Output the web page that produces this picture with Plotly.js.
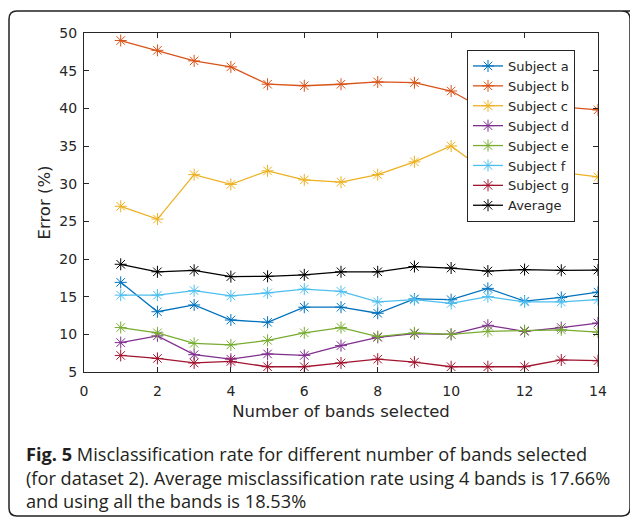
<!DOCTYPE html>
<html>
<head>
<meta charset="utf-8">
<script src="https://cdn.plot.ly/plotly-3.0.1.min.js"></script>
<style>
html,body{margin:0;padding:0;background:#fff;}
#chart{width:630px;height:519px;}
</style>
</head>
<body>
<div id="chart"></div>
<script>
// ---- data ----
const bands = [1, 2, 3, 4, 5, 6, 7, 8, 9, 10, 11, 12, 13, 14];
const seriesNames = ["Subject a", "Subject b", "Subject c", "Subject d", "Subject e", "Subject f", "Subject g", "Average"];
const subjectA = [16.9, 13.0, 13.9, 11.9, 11.6, 13.6, 13.6, 12.8, 14.7, 14.6, 16.1, 14.4, 14.9, 15.6];
const subjectB = [49.0, 47.7, 46.3, 45.5, 43.2, 43.0, 43.2, 43.5, 43.4, 42.3, 39.6, 40.8, 40.2, 39.8];
const subjectC = [27.0, 25.3, 31.2, 29.9, 31.7, 30.5, 30.2, 31.2, 32.9, 35.0, 31.4, 33.2, 31.5, 30.9];
const subjectD = [8.9, 9.8, 7.3, 6.7, 7.4, 7.2, 8.5, 9.6, 10.1, 10.0, 11.2, 10.4, 10.9, 11.5];
const subjectE = [10.9, 10.2, 8.8, 8.6, 9.2, 10.2, 10.9, 9.7, 10.2, 10.0, 10.4, 10.5, 10.6, 10.3];
const subjectF = [15.2, 15.2, 15.8, 15.1, 15.5, 16.0, 15.7, 14.3, 14.6, 14.1, 15.0, 14.3, 14.3, 14.6];
const subjectG = [7.2, 6.8, 6.2, 6.4, 5.7, 5.7, 6.2, 6.7, 6.3, 5.7, 5.7, 5.7, 6.6, 6.5];
const average  = [19.3, 18.3, 18.5, 17.66, 17.7, 17.9, 18.3, 18.3, 19.0, 18.8, 18.4, 18.6, 18.5, 18.53];
const xTicks = [0, 2, 4, 6, 8, 10, 12, 14];
const yTicks = [5, 10, 15, 20, 25, 30, 35, 40, 45, 50];

const colors = ["#0072BD", "#D95319", "#EDB120", "#7E2F8E", "#77AC30", "#4DBEEE", "#A2142F", "#000000"];
const allSeries = [subjectA, subjectB, subjectC, subjectD, subjectE, subjectF, subjectG, average];

const traces = allSeries.map((ys, i) => ({
  x: bands, y: ys, name: seriesNames[i], type: "scatter", mode: "lines+markers",
  line: {color: colors[i], width: 1.3},
  marker: {symbol: "asterisk-open", size: 10, color: colors[i], line: {color: colors[i], width: 1}}
}));

// plot-area pixel geometry
const L = 84, R = 32, T = 33, B = 147, W = 630, H = 519;
const pw = W - L - R, ph = H - T - B;
const px = v => (v - L) / pw;
const py = v => (H - B - v) / ph;

const border = `M ${px(640)},${py(11)} L ${px(17)},${py(11)} Q ${px(9)},${py(11)} ${px(9)},${py(19)} ` +
               `L ${px(9)},${py(508)} Q ${px(9)},${py(516)} ${px(17)},${py(516)} L ${px(622)},${py(516)} ` +
               `Q ${px(630)},${py(516)} ${px(630)},${py(508)} L ${px(630)},${py(19)} Q ${px(630)},${py(11)} ${px(622)},${py(11)}`;

const axisCommon = {
  showline: true, linecolor: "#262626", linewidth: 1, mirror: "ticks",
  ticks: "inside", ticklen: 5, tickwidth: 1, tickcolor: "#262626",
  showgrid: false, zeroline: false,
  tickfont: {family: "DejaVu Sans", size: 14, color: "#262626"}
};

const layout = {
  width: W, height: H,
  margin: {l: L, r: R, t: T, b: B},
  paper_bgcolor: "#fff", plot_bgcolor: "#fff",
  font: {family: "DejaVu Sans", color: "#262626"},
  showlegend: true,
  xaxis: Object.assign({}, axisCommon, {
    range: [0, 14], tickvals: xTicks, ticktext: xTicks.map(String),
    ticklabelstandoff: 6,
    title: {text: "Number of bands selected", font: {family: "DejaVu Sans", size: 16.5, color: "#262626"}, standoff: 7}
  }),
  yaxis: Object.assign({}, axisCommon, {
    range: [5, 50], tickvals: yTicks, ticktext: yTicks.map(String),
    ticklabelstandoff: 3,
    title: {text: "Error (%)", font: {family: "DejaVu Sans", size: 16.5, color: "#262626"}, standoff: 4}
  }),
  legend: {
    x: px(467), y: py(50), xanchor: "left", yanchor: "top",
    bgcolor: "#fff", bordercolor: "#262626", borderwidth: 1,
    font: {family: "DejaVu Sans", size: 13, color: "#262626"},
    tracegroupgap: 0
  },
  shapes: [{type: "path", xref: "paper", yref: "paper", path: border,
            line: {color: "#222", width: 1.5}, fillcolor: "rgba(0,0,0,0)", layer: "below"}],
  annotations: [{
    xref: "paper", yref: "paper", x: px(24), y: py(477), xanchor: "left", yanchor: "middle",
    align: "left", showarrow: false,
    font: {family: "Open Sans", size: 18.2, color: "#231f20"},
    text: "<b>Fig. 5</b> Misclassification rate for different number of bands selected<br>" +
          "(for dataset 2). Average misclassification rate using 4 bands is 17.66%<br>" +
          "and using all the bands is 18.53%"
  }]
};

Plotly.newPlot("chart", traces, layout, {displayModeBar: false, staticPlot: true});
</script>
</body>
</html>
